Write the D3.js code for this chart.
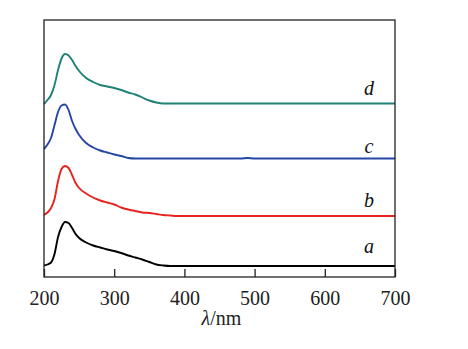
<!DOCTYPE html>
<html><head><meta charset="utf-8">
<script src="https://cdn.jsdelivr.net/npm/d3@7"></script>
<style>body{margin:0;background:#fff}svg{display:block}</style>
</head><body>
<script>
const wavelengths = [200,205,210,215,220,225,230,235,240,245,250,260,270,280,290,300,310,320,330,340,350,360,370,380,390,400,450,480,490,500,550,600,650,700];
const seriesA = [0.23,0.25,0.29,0.46,0.80,1.00,1.10,1.08,0.98,0.86,0.78,0.69,0.63,0.59,0.55,0.52,0.48,0.43,0.39,0.35,0.30,0.25,0.23,0.22,0.22,0.22,0.22,0.22,0.22,0.22,0.22,0.22,0.22,0.22];
const seriesB = [1.24,1.29,1.38,1.56,1.92,2.16,2.22,2.18,2.04,1.88,1.78,1.67,1.59,1.53,1.49,1.45,1.39,1.35,1.32,1.29,1.28,1.26,1.24,1.23,1.22,1.22,1.22,1.22,1.22,1.22,1.22,1.22,1.22,1.22];
const seriesC = [2.56,2.65,2.78,3.04,3.30,3.43,3.45,3.34,3.12,2.96,2.84,2.68,2.59,2.53,2.49,2.45,2.42,2.38,2.37,2.37,2.37,2.37,2.37,2.37,2.37,2.37,2.37,2.37,2.38,2.37,2.37,2.37,2.37,2.37];
const seriesD = [3.46,3.54,3.64,3.84,4.14,4.37,4.46,4.43,4.34,4.22,4.12,3.98,3.90,3.84,3.81,3.78,3.74,3.69,3.65,3.59,3.53,3.49,3.47,3.47,3.47,3.47,3.47,3.47,3.47,3.47,3.47,3.47,3.47,3.47];
const seriesNames = ["a","b","c","d"];
const seriesColors = ["#000000","#e8231f","#2446a4","#1e8276"];
const labelY = [0.48,1.40,2.48,3.64];
const labelX = 663;
const xTicks = [200,300,400,500,600,700];
const xLabel = "nm";

const FONT = '"Liberation Serif", "Times New Roman", Tinos, serif';
const W = 468, H = 349;
const m = {left:44, right:73, top:20, bottom:72};
const svg = d3.select("body").append("svg").attr("width",W).attr("height",H)
  .attr("font-family","Liberation Serif");
const x = d3.scaleLinear().domain([200,700]).range([m.left, W-m.right]);
const y = d3.scaleLinear().domain([0,5.14]).range([H-m.bottom, m.top]);

const all = [seriesA, seriesB, seriesC, seriesD];
const line = d3.line().x((d,i)=>x(wavelengths[i])).y(d=>y(d)).curve(d3.curveMonotoneX);
all.forEach((s,k)=>{
  svg.append("path").datum(s).attr("d",line).attr("fill","none")
    .attr("stroke",seriesColors[k]).attr("stroke-width",1.9).attr("stroke-linejoin","round");
  svg.append("text").attr("class","t").attr("x",x(labelX)).attr("y",y(labelY[k]))
    .attr("text-anchor","middle")
    .style("font-style","italic").attr("font-size",20).attr("fill","#111").text(seriesNames[k]);
});

svg.append("rect").attr("x",m.left).attr("y",m.top)
  .attr("width",W-m.right-m.left).attr("height",H-m.bottom-m.top)
  .attr("fill","none").attr("stroke","#222").attr("stroke-width",1.3);

const ax = d3.axisBottom(x).tickValues(xTicks).tickSizeInner(-8).tickSizeOuter(0).tickPadding(14);
const g = svg.append("g").attr("transform",`translate(0,${H-m.bottom})`).call(ax);
g.attr("font-family",null).attr("font-size",null);
g.select(".domain").remove();
g.selectAll(".tick line").attr("stroke","#222").attr("stroke-width",1.3);
g.selectAll(".tick text").attr("class","t").attr("font-size",20).attr("fill","#222");

const t = svg.append("text").attr("class","t").attr("x",(m.left+W-m.right)/2+2).attr("y",325)
  .attr("text-anchor","middle").attr("font-size",20).attr("fill","#222");
t.append("tspan").style("font-style","italic").text("λ");
t.append("tspan").text("/" + xLabel);

function applyFont(){ svg.selectAll("text.t").style("font-family",FONT); }
applyFont();
if (document.fonts && document.fonts.ready) document.fonts.ready.then(applyFont);
</script>
</body></html>
